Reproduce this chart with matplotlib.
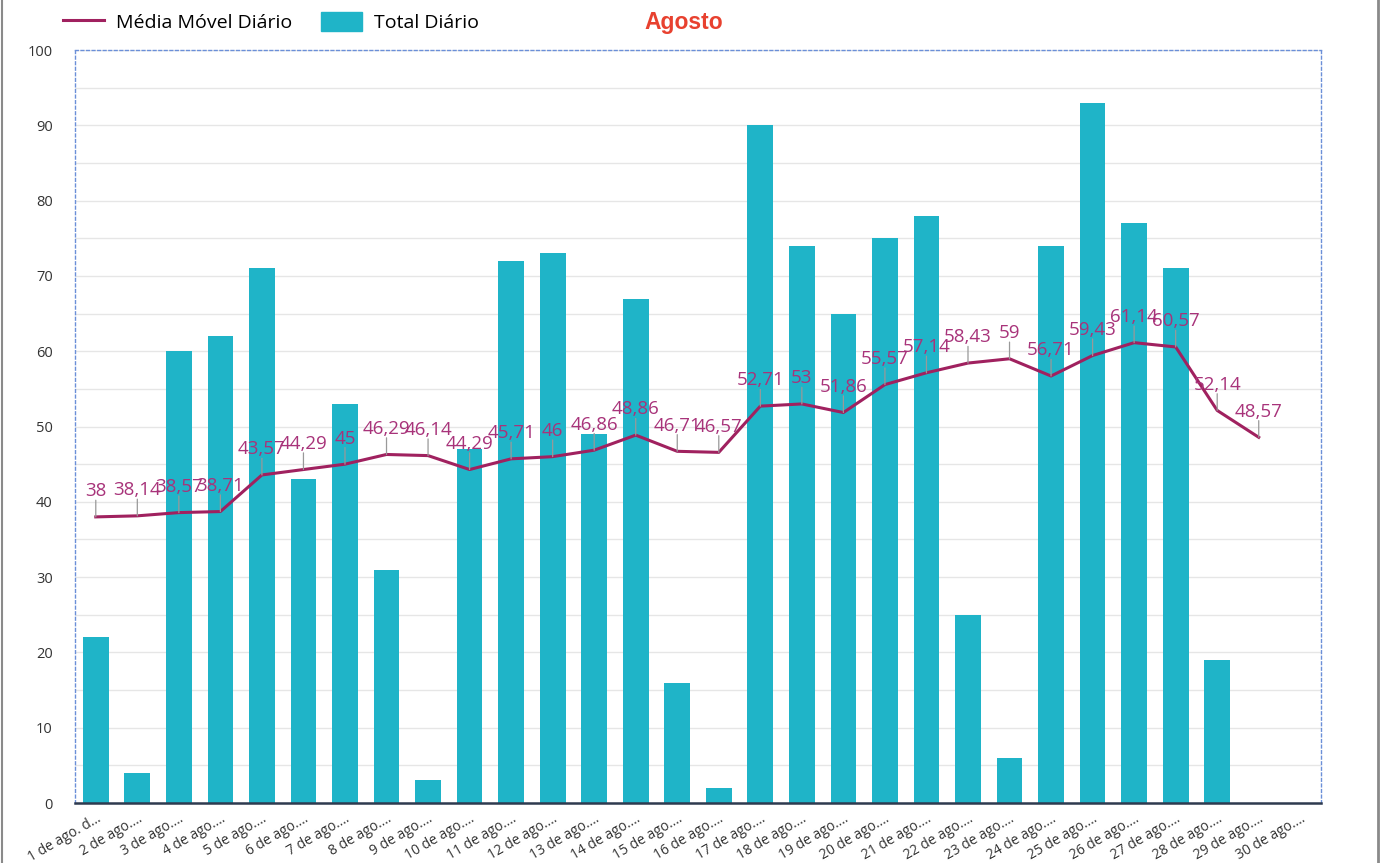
import numpy as np
import matplotlib.pyplot as plt
from matplotlib.lines import Line2D
from matplotlib.patches import Patch

# dados
dias = [f"{d} de ago.…" for d in range(1, 31)]
dias[0] = "1 de ago. d…"
total = [22, 4, 60, 62, 71, 43, 53, 31, 3, 47, 72, 73, 49, 67, 16, 2, 90, 74,
         65, 75, 78, 25, 6, 74, 93, 77, 71, 19, 0, 0]
media = [38, 38.14, 38.57, 38.71, 43.57, 44.29, 45, 46.29, 46.14, 44.29, 45.71,
         46, 46.86, 48.86, 46.71, 46.57, 52.71, 53, 51.86, 55.57, 57.14, 58.43,
         59, 56.71, 59.43, 61.14, 60.57, 52.14, 48.57]

cor_barra = "#1fb4c8"
cor_linha = "#a0215f"
cor_rotulo = "#a8337a"

plt.rcParams['font.family'] = ['Open Sans', 'DejaVu Sans']

fig = plt.figure(figsize=(13.84, 8.63), dpi=100)
ax = fig.add_axes([0.0542, 0.0695, 0.9003, 0.8725])

x = np.arange(len(dias))
ax.bar(x, total, width=0.62, color=cor_barra, zorder=2)

xm = np.arange(len(media))
ax.plot(xm, media, color=cor_linha, linewidth=2.2, zorder=3)

for xi, v in zip(xm, media):
    txt = f"{v:g}".replace(".", ",")
    ax.annotate("", xy=(xi, v), xytext=(0, 12), textcoords="offset points",
                arrowprops=dict(arrowstyle="-", color="#999999", lw=0.9,
                                shrinkA=0, shrinkB=0), zorder=3)
    ax.annotate(txt, xy=(xi, v), xytext=(0, 12), textcoords="offset points",
                ha="center", va="bottom", fontsize=13.5, color=cor_rotulo,
                zorder=4)

ax.set_xlim(-0.5, 29.5)
ax.set_ylim(0, 100)
ax.set_yticks(np.arange(0, 101, 10))
ax.set_yticks(np.arange(0, 101, 5), minor=True)
ax.grid(axis="y", which="both", color="#e6e6e6", linewidth=1, zorder=0)
ax.tick_params(axis="y", which="both", length=0, labelsize=10.5,
               colors="#333333", pad=16)
ax.set_xticks(x)
ax.set_xticklabels(dias, rotation=30, ha="right", rotation_mode="anchor",
                   fontsize=10, color="#333333")
ax.tick_params(axis="x", length=0, pad=6)

for lado in ["top", "right", "left"]:
    ax.spines[lado].set_color("#6b8fd8")
    ax.spines[lado].set_linestyle((0, (2, 2)))
    ax.spines[lado].set_linewidth(1)
ax.spines["bottom"].set_color("#2e3a4f")
ax.spines["bottom"].set_linewidth(1.8)

handles = [Line2D([0], [0], color=cor_linha, lw=2.2),
           Patch(color=cor_barra)]
fig.legend(handles, ["Média Móvel Diário", "Total Diário"],
           loc="center left", bbox_to_anchor=(0.033, 0.974), ncol=2,
           frameon=False, fontsize=14, handlelength=2.1, handleheight=1.1,
           columnspacing=1.5, handletextpad=0.6)
fig.text(0.494, 0.974, "Agosto", ha="center", va="center", fontsize=16.5,
         fontweight="bold", color="#e8412f", family="Liberation Sans")

# bordas cinza da imagem
fig.add_artist(Line2D([0.9955, 0.9955], [0, 1], color="#8a8a8a", lw=2))
fig.add_artist(Line2D([0.0012, 0.0012], [0, 1], color="#8a8a8a", lw=1.5))

fig.savefig("out.png", dpi=100)
